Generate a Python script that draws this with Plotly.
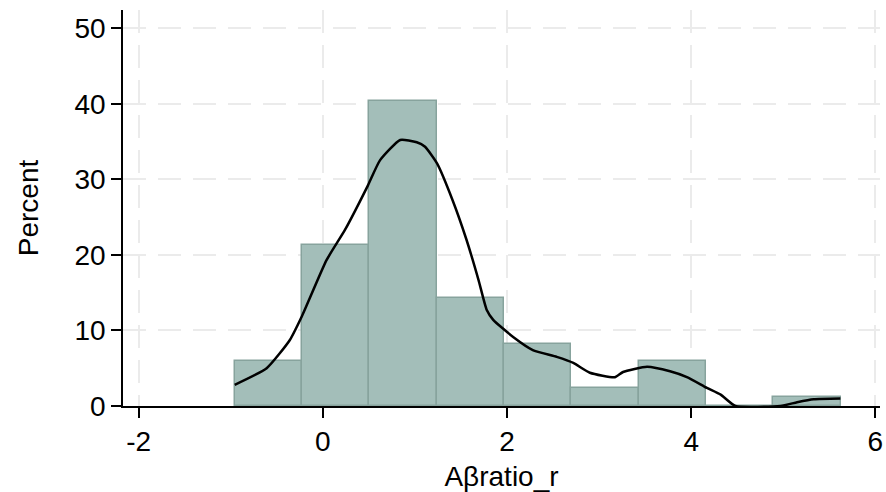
import plotly.graph_objects as go

# Histogram bins (left edges) and bin width
bin_left = [-0.957, -0.226, 0.505, 1.236, 1.967, 2.698, 3.429, 4.160, 4.891]
bin_width = 0.731
percent = [5.95, 21.3, 40.4, 14.3, 8.2, 2.4, 5.95, 0.0, 1.2]

# Kernel density curve (scaled to percent)
kde_x = [-0.957, -0.61, -0.36, -0.23, 0.04, 0.24, 0.49, 0.62, 0.84, 1.02, 1.11, 1.24, 1.41,
         1.56, 1.69, 1.78, 1.85, 2.07, 2.28, 2.54, 2.72, 2.90, 3.17, 3.26, 3.52, 3.77,
         3.96, 4.17, 4.32, 4.48, 4.97, 5.15, 5.33, 5.62]
kde_y = [2.8, 5.0, 8.7, 11.8, 19.3, 23.3, 29.2, 32.5, 35.2, 34.9, 34.3, 32.1, 27.2,
         22.0, 16.7, 12.7, 11.4, 9.1, 7.4, 6.5, 5.7, 4.4, 3.8, 4.5, 5.2, 4.6,
         3.8, 2.4, 1.5, 0.0, 0.0, 0.5, 0.9, 1.0]

x_ticks = [-2, 0, 2, 4, 6]
x_tick_text = ["-2", "0", "2", "4", "6"]
y_ticks = [0, 10, 20, 30, 40, 50]

centers = [l + bin_width / 2 for l in bin_left]

fig = go.Figure()
fig.add_trace(go.Bar(
    x=centers, y=percent, width=[bin_width] * len(centers),
    marker=dict(color="rgb(163,190,185)", line=dict(color="rgb(135,163,157)", width=1.5)),
    showlegend=False,
))
fig.add_trace(go.Scatter(
    x=kde_x, y=kde_y, mode="lines",
    line=dict(color="black", width=2.5, shape="spline", smoothing=0.5),
    showlegend=False,
))

font = dict(family="Arial, Liberation Sans, sans-serif", size=28, color="black")
fig.update_layout(
    width=886, height=492,
    margin=dict(l=123, r=6, t=10, b=86, autoexpand=False),
    paper_bgcolor="white", plot_bgcolor="white",
    font=font, bargap=0,
    xaxis=dict(
        range=[-2.17, 6.05], tickvals=x_ticks, ticktext=x_tick_text, ticks="outside",
        ticklen=10, tickwidth=1.5,
        tickcolor="black", showline=True, linecolor="black", linewidth=1.5,
        showgrid=True, gridcolor="#ebebeb", gridwidth=2, griddash="23px,12px",
        zeroline=False, title=dict(text="Aβratio_r", standoff=10, font=font), tickfont=font,
        automargin=False,
    ),
    yaxis=dict(
        range=[0, 52.4], tickvals=y_ticks, ticks="outside", ticklen=10, tickwidth=1.5,
        tickcolor="black", showline=True, linecolor="black", linewidth=1.5,
        showgrid=True, gridcolor="#ebebeb", gridwidth=2, griddash="23px,12px",
        zeroline=False, title=dict(text="Percent", standoff=28, font=font), tickfont=font,
        automargin=False,
    ),
)
fig.write_html("out.html", config={"displayModeBar": False},
               post_script="document.body.style.margin='0px';document.body.style.padding='0px';")
